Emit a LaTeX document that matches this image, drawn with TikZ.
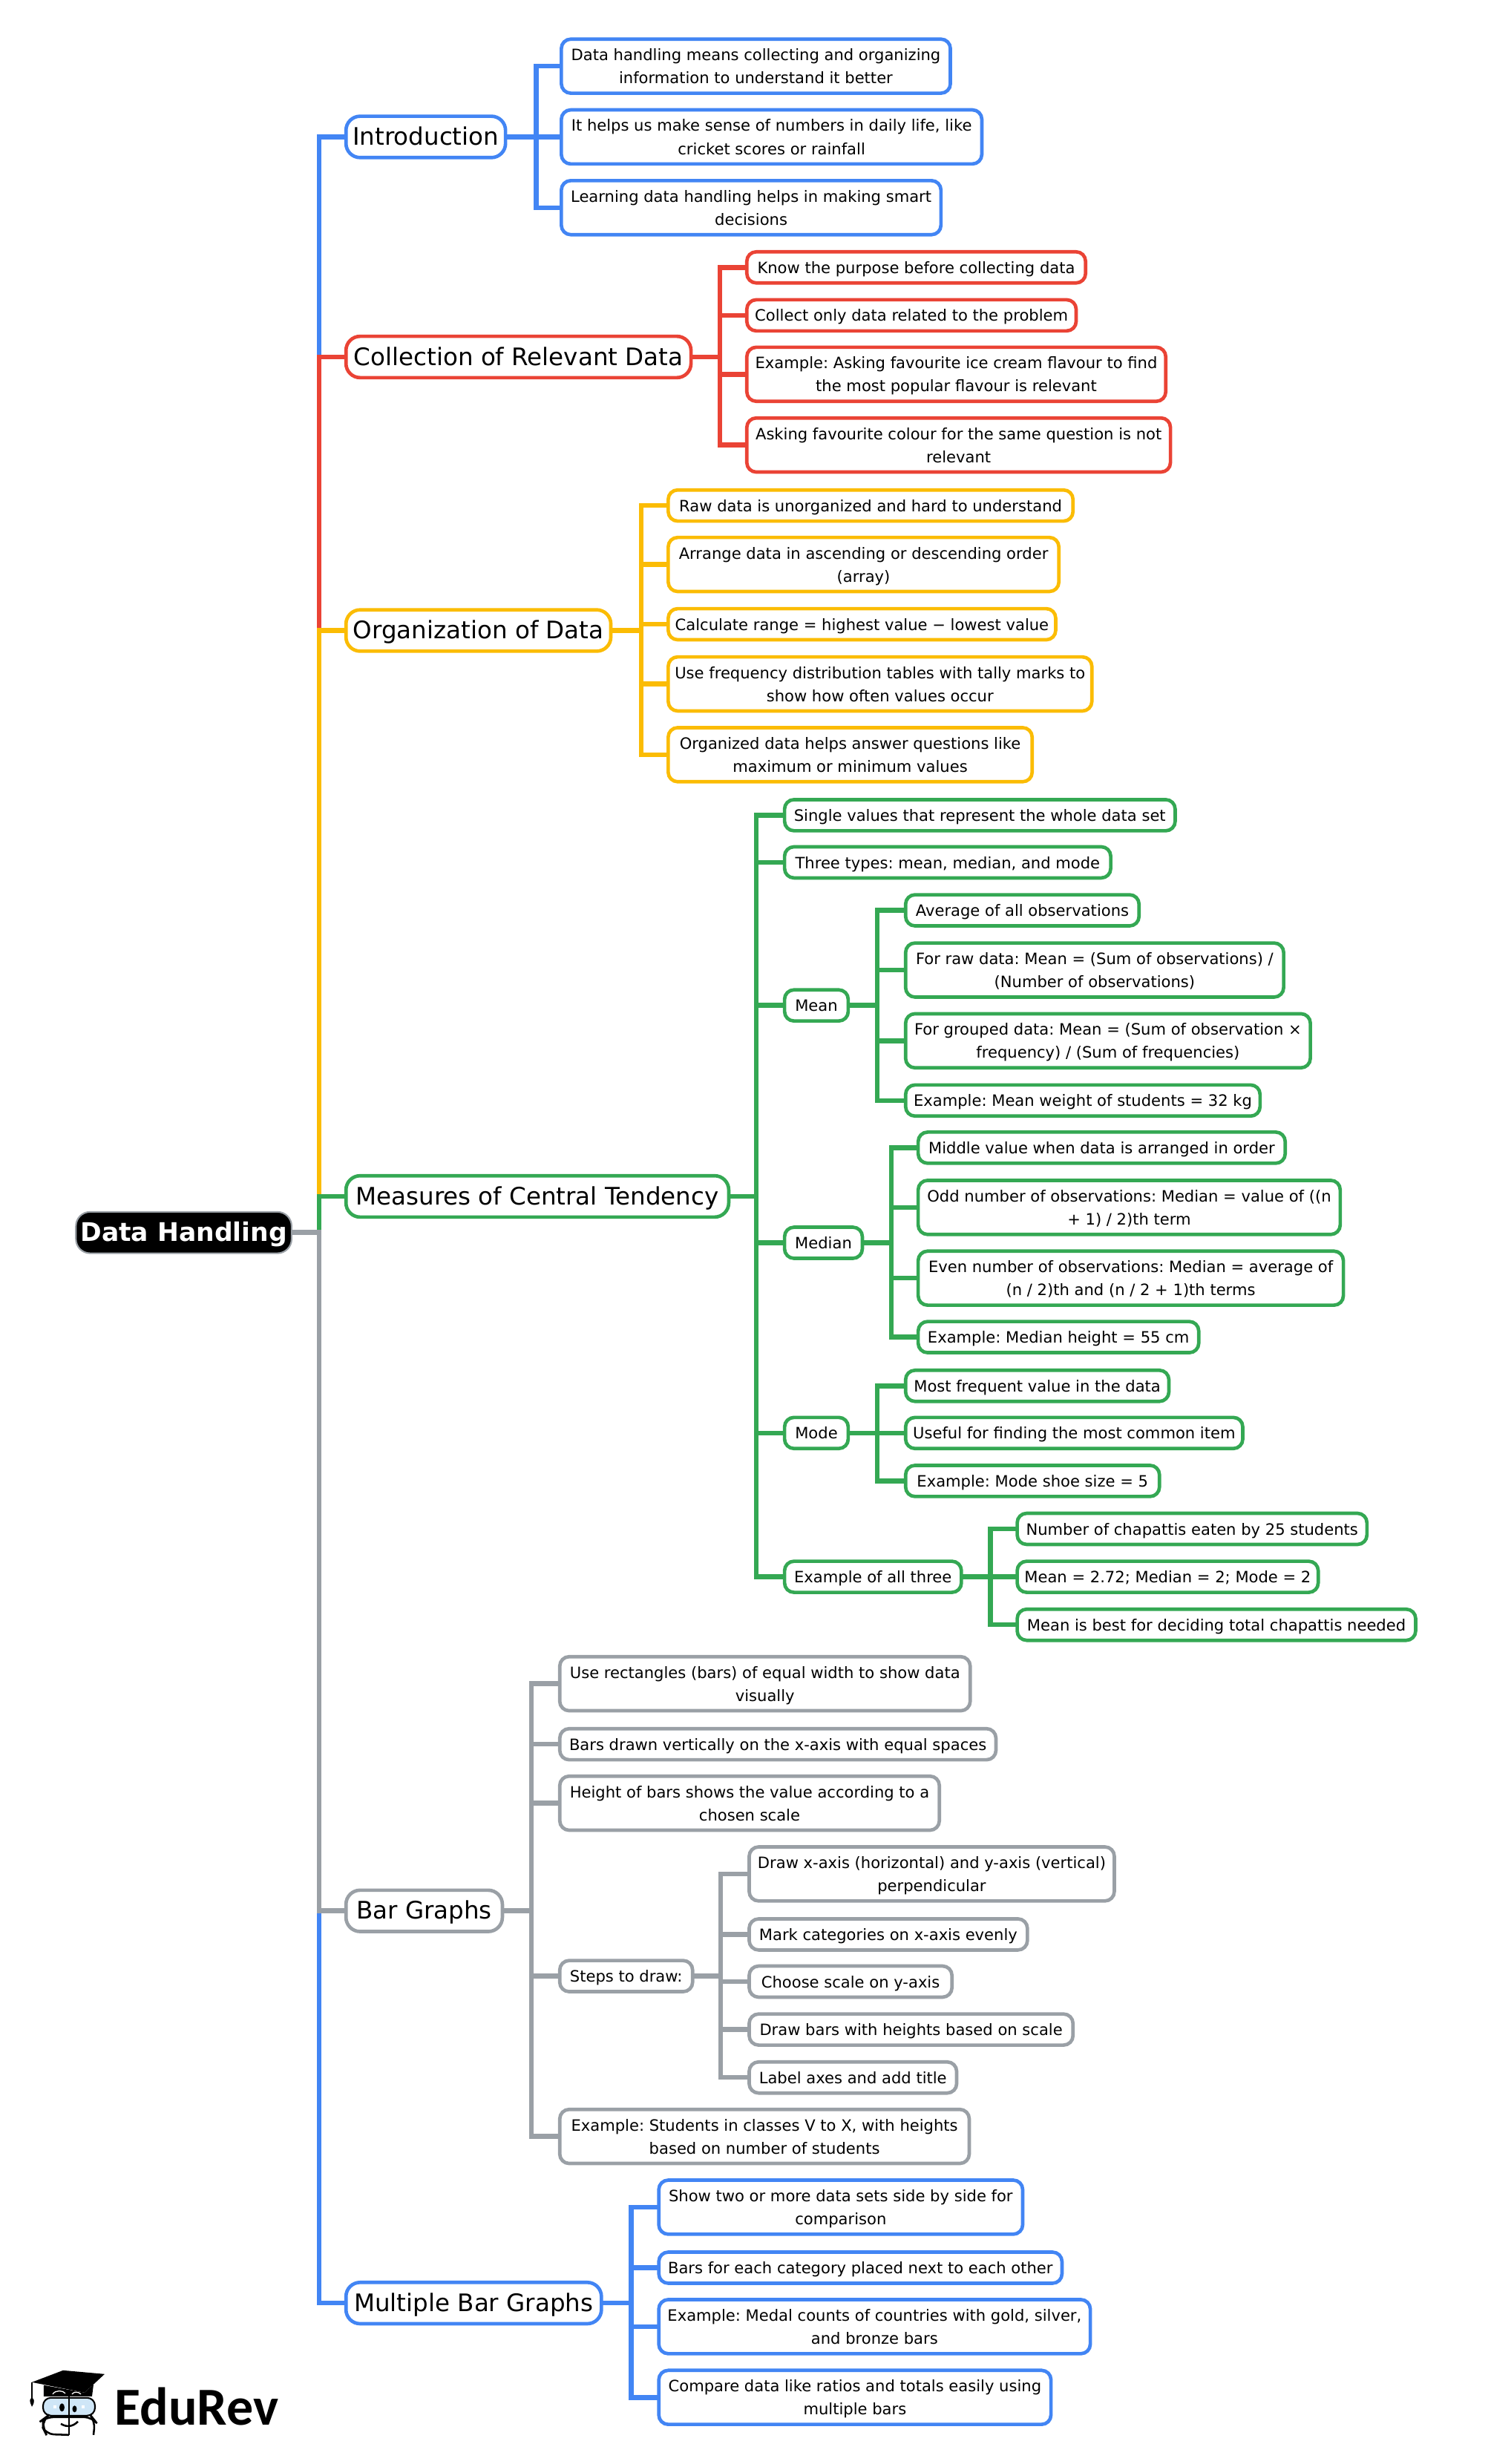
\documentclass[tikz,border=0pt]{standalone}
\usepackage{fontspec}
\setmainfont{DejaVu Sans}
\newfontfamily\logofont{Carlito}
\definecolor{cblue}{HTML}{4285F4}
\definecolor{cred}{HTML}{EA4335}
\definecolor{cyel}{HTML}{FBBC04}
\definecolor{cgrn}{HTML}{34A853}
\definecolor{cgry}{HTML}{9AA0A6}
\definecolor{cglass}{HTML}{CFE6F7}
\tikzset{
 bl/.style={draw=cblue}, rd/.style={draw=cred}, yl/.style={draw=cyel}, gn/.style={draw=cgrn}, gy/.style={draw=cgry},
 leaf/.style={line width=2.2pt,rounded corners=6pt,inner sep=0pt,outer sep=0pt,align=center,fill=white,font=\def\mystrut{\rule[-3.5pt]{0pt}{14.6pt}}\frenchspacing\fontsize{9.95}{14.7}\selectfont},
 head/.style={line width=2.2pt,rounded corners=9pt,inner sep=0pt,outer sep=0pt,align=center,fill=white,font=\def\mystrut{\rule[-3.7pt]{0pt}{18pt}}\fontsize{15.35}{18}\selectfont},
 rootn/.style={line width=1pt,draw=cgry,fill=black,text=white,rounded corners=9pt,inner sep=0pt,outer sep=0pt,align=center,font=\def\mystrut{\rule[-3.5pt]{0pt}{18.5pt}}\fontsize{16.3}{18}\selectfont\bfseries},
 conn/.style={line width=3.1pt,line join=miter}
}
\newcommand{\bx}[7]{%
 \pgfmathsetmacro\boxh{(#5-#4<24)?22:((#5-#4<29.5)?28.5:((#5-#4<34)?30.3:36.6))}%
 \node[#6,minimum width={(#3-#2+0.7-2.2)*1pt},minimum height={(\boxh-2.2)*1pt}] (#1) at ({(#2+#3)/2-0.65},{(#4+#5)/2-0.4}) {\mystrut #7\mystrut};}
\newcommand{\kids}[4]{\foreach \c in {#4}{\draw[conn,#3] (#1.east) -- ++(#2+1.4,0) |- (\c.west);}}
\begin{document}
\begin{tikzpicture}[x=1pt,y=-1pt]
\useasboundingbox (0,0) rectangle (948.5,1567.5);
\fill[white] (0,0) rectangle (948.5,1567.5);
% root
\bx{root}{48.2}{186.9}{770}{799}{rootn}{Data Handling}
% level 1
\bx{intro}{220}{323}{74}{101}{head,bl}{Introduction}
\bx{coll}{220}{441}{214}{241}{head,rd}{Collection of Relevant Data}
\bx{orga}{220}{390}{388}{415}{head,yl}{Organization of Data}
\bx{meas}{220}{465}{748}{775}{head,gn}{Measures of Central Tendency}
\bx{barg}{220}{321}{1203}{1229}{head,gy}{Bar Graphs}
\bx{mult}{220}{384}{1452}{1479}{head,bl}{Multiple Bar Graphs}
% intro
\bx{i1}{357}{606}{25}{60}{leaf,bl}{Data handling means collecting and organizing\\information to understand it better}
\bx{i2}{357}{626}{70}{105}{leaf,bl}{It helps us make sense of numbers in daily life, like\\cricket scores or rainfall}
\bx{i3}{357}{600}{115}{150}{leaf,bl}{Learning data handling helps in making smart\\decisions}
% collection
\bx{c1}{475}{692}{160}{181}{leaf,rd}{Know the purpose before collecting data}
\bx{c2}{475}{686}{191}{211}{leaf,rd}{Collect only data related to the problem}
\bx{c3}{475}{743}{221}{256}{leaf,rd}{Example: Asking favourite ice cream flavour to find\\the most popular flavour is relevant}
\bx{c4}{475}{746}{266}{301}{leaf,rd}{Asking favourite colour for the same question is not\\relevant}
% organization
\bx{o1}{425}{684}{312}{332}{leaf,yl}{Raw data is unorganized and hard to understand}
\bx{o2}{425}{675}{342}{377}{leaf,yl}{Arrange data in ascending or descending order\\(array)}
\bx{o3}{425}{673}{387}{408}{leaf,yl}{Calculate range = highest value − lowest value}
\bx{o4}{425}{696}{418}{453}{leaf,yl}{Use frequency distribution tables with tally marks to\\show how often values occur}
\bx{o5}{425}{658}{463}{498}{leaf,yl}{Organized data helps answer questions like\\maximum or minimum values}
% measures
\bx{m1}{499}{749}{509}{529}{leaf,gn}{Single values that represent the whole data set}
\bx{m2}{499}{708}{539}{559}{leaf,gn}{Three types: mean, median, and mode}
\bx{mean}{499}{541}{630}{650}{leaf,gn}{Mean}
\bx{med}{499}{550}{781}{801}{leaf,gn}{Median}
\bx{mode}{499}{541}{902}{922}{leaf,gn}{Mode}
\bx{ex3}{499}{613}{993}{1014}{leaf,gn}{Example of all three}
\bx{a1}{576}{726}{569}{590}{leaf,gn}{Average of all observations}
\bx{a2}{576}{818}{600}{635}{leaf,gn}{For raw data: Mean = (Sum of observations) /\\(Number of observations)}
\bx{a3}{576}{835}{645}{680}{leaf,gn}{For grouped data: Mean = (Sum of observation ×\\frequency) / (Sum of frequencies)}
\bx{a4}{576}{803}{690}{711}{leaf,gn}{Example: Mean weight of students = 32 kg}
\bx{d1}{584}{819}{720}{741}{leaf,gn}{Middle value when data is arranged in order}
\bx{d2}{584}{854}{751}{786}{leaf,gn}{Odd number of observations: Median = value of ((n\\+ 1) / 2)th term}
\bx{d3}{584}{856}{796}{831}{leaf,gn}{Even number of observations: Median = average of\\(n / 2)th and (n / 2 + 1)th terms}
\bx{d4}{584}{764}{841}{861}{leaf,gn}{Example: Median height = 55 cm}
\bx{e1}{576}{745}{872}{892}{leaf,gn}{Most frequent value in the data}
\bx{e2}{576}{792}{902}{922}{leaf,gn}{Useful for finding the most common item}
\bx{e3}{576}{739}{932}{953}{leaf,gn}{Example: Mode shoe size = 5}
\bx{x1}{647}{871}{963}{983}{leaf,gn}{Number of chapattis eaten by 25 students}
\bx{x2}{647}{840}{993}{1014}{leaf,gn}{Mean = 2.72; Median = 2; Mode = 2}
\bx{x3}{647}{902}{1024}{1044}{leaf,gn}{Mean is best for deciding total chapattis needed}
% bar graphs
\bx{b1}{356}{618.6}{1054}{1089}{leaf,gy}{Use rectangles (bars) of equal width to show data\\visually}
\bx{b2}{356}{635}{1100}{1120}{leaf,gy}{Bars drawn vertically on the x-axis with equal spaces}
\bx{b3}{356}{599}{1130}{1165}{leaf,gy}{Height of bars shows the value according to a\\chosen scale}
\bx{steps}{356}{442}{1247}{1268}{leaf,gy}{Steps to draw:}
\bx{b5}{356}{618}{1342}{1377}{leaf,gy}{Example: Students in classes V to X, with heights\\based on number of students}
\bx{s1}{476.5}{710.3}{1175}{1210}{leaf,gy}{Draw x-axis (horizontal) and y-axis (vertical)\\perpendicular}
\bx{s2}{476.5}{655}{1221}{1241}{leaf,gy}{Mark categories on x-axis evenly}
\bx{s3}{476.5}{607}{1251}{1271}{leaf,gy}{Choose scale on y-axis}
\bx{s4}{476.5}{684}{1281}{1302}{leaf,gy}{Draw bars with heights based on scale}
\bx{s5}{476.5}{610}{1312}{1332}{leaf,gy}{Label axes and add title}
% multiple
\bx{u1}{419}{652}{1387}{1422}{leaf,bl}{Show two or more data sets side by side for\\comparison}
\bx{u2}{419}{677}{1433}{1453}{leaf,bl}{Bars for each category placed next to each other}
\bx{u3}{419}{695}{1463}{1498}{leaf,bl}{Example: Medal counts of countries with gold, silver,\\and bronze bars}
\bx{u4}{419}{670}{1508}{1543}{leaf,bl}{Compare data like ratios and totals easily using\\multiple bars}
% connectors
\kids{root}{16.1}{bl}{intro}
\kids{root}{16.1}{rd}{coll}
\kids{root}{16.1}{yl}{orga}
\kids{root}{16.1}{gn}{meas}
\kids{root}{16.1}{bl}{mult}
\kids{root}{16.1}{gy}{barg}
\kids{intro}{18}{bl}{i1,i2,i3}
\kids{coll}{17}{rd}{c1,c2,c3,c4}
\kids{orga}{18}{yl}{o1,o2,o3,o4,o5}
\kids{meas}{16}{gn}{m1,m2,mean,med,mode,ex3}
\kids{mean}{17}{gn}{a1,a2,a3,a4}
\kids{med}{17}{gn}{d1,d2,d3,d4}
\kids{mode}{17}{gn}{e1,e2,e3}
\kids{ex3}{17}{gn}{x1,x2,x3}
\kids{barg}{17}{gy}{b1,b2,b3,steps,b5}
\kids{steps}{16.5}{gy}{s1,s2,s3,s4,s5}
\kids{mult}{17.5}{bl}{u1,u2,u3,u4}
% logo
\begin{scope}[scale=0.4721]
\draw[black,line width=1pt] (43,3210) -- (43,3232);
\fill[black] (41,3232) .. controls (39,3236) and (42,3240) .. (43,3243) .. controls (45,3240) and (47,3236) .. (45,3232) -- cycle;
\fill[black] (43,3210) -- (85,3194) -- (141,3199) -- (114,3224) -- cycle;
\fill[black] (59,3214) -- (114,3224) -- (126,3213) -- (124,3229) -- (59,3229) -- cycle;
\draw[white,line width=.6pt] (71,3226) .. controls (75,3220) and (85,3221) .. (88,3225);
\draw[white,line width=.6pt] (97,3226) .. controls (100,3222) and (106,3223) .. (109,3226);
\draw[black,fill=cglass,line width=1pt,rounded corners=5pt] (58,3231) rectangle (128,3255);
\fill[white] (72,3241) rectangle (76,3245);
\fill[white] (110,3241) rectangle (114,3245);
\fill[black] (83.5,3244) ellipse (3.5 and 5.5);
\fill[black] (100.5,3246) ellipse (3 and 4.5);
\draw[black,line width=1.2pt,rounded corners=5pt] (93,3281) -- (62,3280) -- (58,3272) -- (58,3260) -- (62,3257) -- (124,3257) -- (128,3262) -- (126,3281);
\draw[black,line width=1.4pt] (93,3229) -- (93,3281);
\draw[black,line width=1.2pt] (82,3266) .. controls (90,3271) and (98,3270) .. (105,3263);
\node[anchor=base west,inner sep=0pt,font=\fontsize{34}{34}\selectfont\logofont\bfseries] (logo) at (154,3268) {EduRev};
\end{scope}
\end{tikzpicture}
\end{document}
